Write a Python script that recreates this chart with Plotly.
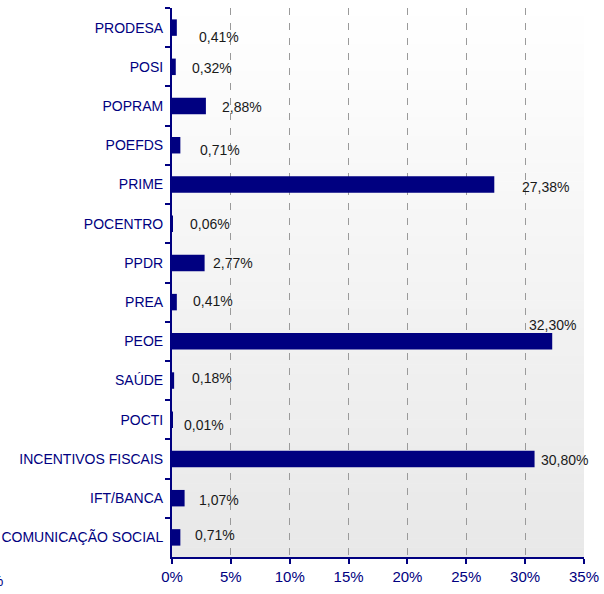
import plotly.graph_objects as go

categories = ["PRODESA", "POSI", "POPRAM", "POEFDS", "PRIME", "POCENTRO", "PPDR",
              "PREA", "PEOE", "SAÚDE", "POCTI", "INCENTIVOS FISCAIS", "IFT/BANCA",
              "COMUNICAÇÃO SOCIAL"]
values = [0.41, 0.32, 2.88, 0.71, 27.38, 0.06, 2.77, 0.41, 32.30, 0.18, 0.01, 30.80, 1.07, 0.71]
labels = ["0,41%", "0,32%", "2,88%", "0,71%", "27,38%", "0,06%", "2,77%", "0,41%",
          "32,30%", "0,18%", "0,01%", "30,80%", "1,07%", "0,71%"]
x_ticks = [0, 5, 10, 15, 20, 25, 30, 35]
x_tick_text = ["0%", "5%", "10%", "15%", "20%", "25%", "30%", "35%"]

# label placement (pixel offsets from bar end / category centre), styling only
label_dx = [20, 14, 14, 18, 26, 15, 6, 14, 0, 16, 10, 4, 12, 13]
label_dy = [-9, -1, -1, -5, -3, 0, 0, 1, 16, 3, -5, -1, -2, 2]
label_anchor = ["left"] * 8 + ["center"] + ["left"] * 5

NAVY = "#000080"
FONT = "Liberation Sans, Arial"

fig = go.Figure()
fig.add_trace(go.Bar(
    x=values, y=categories, orientation="h",
    marker=dict(color=NAVY, line=dict(width=0)),
    width=0.42, hoverinfo="skip",
))

for v, c, t, dx, dy, anc in zip(values, categories, labels, label_dx, label_dy, label_anchor):
    fig.add_annotation(x=v, y=c, text=t, showarrow=False, xanchor=anc, yanchor="middle",
                       xshift=dx, yshift=dy,
                       font=dict(family=FONT, size=14, color="#1a1a1a"))

# gradient background of the plot area
n_bands = 60
top = (255, 255, 255)
bot = (232, 232, 232)
for i in range(n_bands):
    f = (i + 0.5) / n_bands
    col = tuple(round(top[k] + (bot[k] - top[k]) * f) for k in range(3))
    fig.add_shape(type="rect", xref="x domain", yref="y domain",
                  x0=0, x1=1, y0=1 - (i + 1) / n_bands, y1=1 - i / n_bands + 0.001,
                  fillcolor="rgb(%d,%d,%d)" % col, line=dict(width=0), layer="below")

# clipped fragment of a label at the far left edge, as in the reference
fig.add_annotation(xref="paper", yref="paper", x=-(172 - 5) / 412, y=-23 / 549,
                   text="%", showarrow=False, xanchor="right", yanchor="middle",
                   font=dict(family=FONT, size=15, color=NAVY))

fig.update_layout(
    width=604, height=594,
    margin=dict(l=172, r=20, t=8, b=37, autoexpand=False),
    paper_bgcolor="white", plot_bgcolor="rgba(0,0,0,0)",
    showlegend=False,
    xaxis=dict(range=[0, 35], tickvals=x_ticks, ticktext=x_tick_text, automargin=False,
               showgrid=True, gridcolor="#9a9a9a", griddash="7px,8px", gridwidth=1,
               zeroline=False, showline=True, linecolor=NAVY, linewidth=2,
               ticks="outside", ticklen=5, tickcolor=NAVY, tickwidth=1.5,
               tickfont=dict(family=FONT, size=15, color=NAVY),
               fixedrange=True),
    yaxis=dict(categoryorder="array", categoryarray=categories, autorange="reversed",
               automargin=False,
               showgrid=False, zeroline=False, showline=True, linecolor=NAVY, linewidth=2,
               ticks="outside", ticklen=5, tickcolor=NAVY, tickwidth=1.5,
               tickson="boundaries", ticklabelstandoff=4,
               tickfont=dict(family=FONT, size=14, color=NAVY),
               fixedrange=True),
    font=dict(family=FONT),
)

fig.write_html("out.html", config={"displayModeBar": False},
               post_script="document.body.style.margin='0';document.body.style.overflow='hidden';")
